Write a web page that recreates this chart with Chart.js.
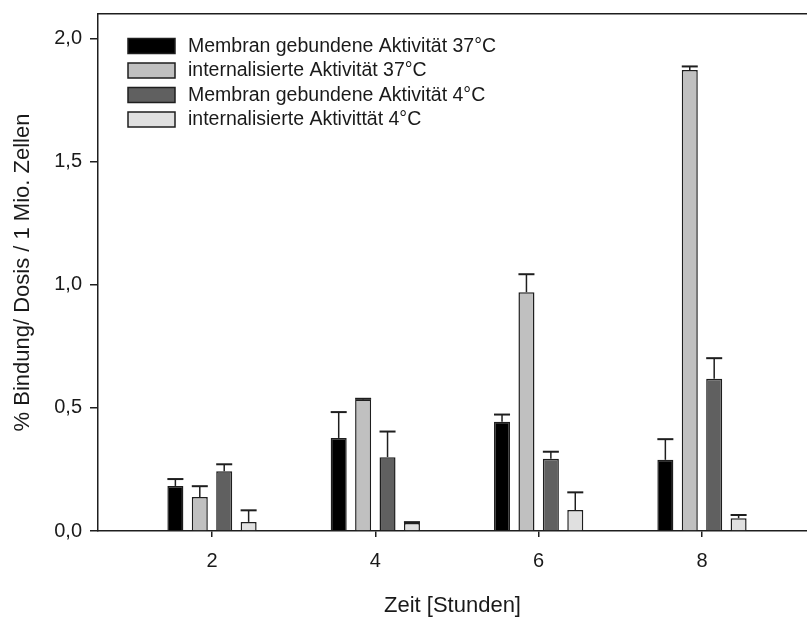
<!DOCTYPE html>
<html>
<head>
<meta charset="utf-8">
<script src="https://cdn.jsdelivr.net/npm/chart.js@4.4.0/dist/chart.umd.min.js"></script>
<style>
  html, body { margin: 0; padding: 0; background: #fff; }
  #wrap { width: 807px; height: 619px; }
</style>
</head>
<body>
<div id="wrap"><canvas id="chart" width="807" height="619"></canvas></div>
<script>
// time points (hours)
const hours = [2, 4, 6, 8];
const yTickValues = [0, 0.5, 1.0, 1.5, 2.0];
const yTickLabels = ['0,0', '0,5', '1,0', '1,5', '2,0'];

const labels = [
    'Membran gebundene Aktivität 37°C',
    'internalisierte Aktivität 37°C',
    'Membran gebundene Aktivität 4°C',
    'internalisierte Aktivittät 4°C'
];

// mean values
const membran37 = [0.183, 0.378, 0.444, 0.289];
const intern37 = [0.138, 0.534, 0.970, 1.873];
const membran4 = [0.243, 0.300, 0.293, 0.618];
const intern4 = [0.037, 0.033, 0.085, 0.052];

// upper error (SD)
const membran37Err = [0.028, 0.105, 0.029, 0.084];
const intern37Err = [0.044, 0.003, 0.073, 0.014];
const membran4Err = [0.028, 0.104, 0.029, 0.084];
const intern4Err = [0.047, 0.003, 0.072, 0.013];

const colors = ['#000000', '#c0c0c0', '#606060', '#e0e0e0'];
const ink = '#1e1e1e';

function series(vals) {
    return hours.map((h, i) => ({ x: h, y: vals[i] }));
}

const allVals = [membran37, intern37, membran4, intern4];
const allErr = [membran37Err, intern37Err, membran4Err, intern4Err];

const datasets = allVals.map((v, i) => ({
    label: labels[i],
    data: series(v),
    errors: allErr[i],
    backgroundColor: colors[i],
    borderColor: ink,
    borderWidth: 1.5,
    categoryPercentage: 0.598,
    barPercentage: 0.656
}));

// one-sided error bars on top of each bar
const errorBars = {
    id: 'errorBars',
    afterDatasetsDraw(chart) {
        const ctx = chart.ctx;
        const yScale = chart.scales.y;
        ctx.save();
        ctx.strokeStyle = ink;
        chart.data.datasets.forEach((ds, di) => {
            const meta = chart.getDatasetMeta(di);
            meta.data.forEach((bar, i) => {
                const top = yScale.getPixelForValue(ds.data[i].y + ds.errors[i]);
                const half = bar.width / 2;
                ctx.lineWidth = 1.5;
                ctx.beginPath();
                ctx.moveTo(bar.x, bar.y);
                ctx.lineTo(bar.x, top);
                ctx.stroke();
                ctx.lineWidth = 2;
                ctx.beginPath();
                ctx.moveTo(bar.x - half, top);
                ctx.lineTo(bar.x + half, top);
                ctx.stroke();
            });
        });
        ctx.restore();
    }
};

// legend box inside the plot, top left
const innerLegend = {
    id: 'innerLegend',
    afterDraw(chart) {
        const ctx = chart.ctx;
        ctx.save();
        ctx.font = '19.5px "Liberation Sans", Arial, sans-serif';
        ctx.textBaseline = 'middle';
        chart.data.datasets.forEach((ds, i) => {
            const y = 38.5 + i * 24.5;
            ctx.fillStyle = ds.backgroundColor;
            ctx.fillRect(128, y, 47, 15);
            ctx.strokeStyle = ink;
            ctx.lineWidth = 1.5;
            ctx.strokeRect(128, y, 47, 15);
            ctx.fillStyle = '#1a1a1a';
            ctx.fillText(ds.label, 188, y + 8);
        });
        ctx.restore();
    }
};

function noPad(s) {
    s.paddingTop = 0; s.paddingBottom = 0; s.paddingLeft = 0; s.paddingRight = 0;
}

new Chart(document.getElementById('chart'), {
    type: 'bar',
    data: { datasets },
    options: {
        responsive: false,
        animation: false,
        layout: { padding: { top: 14, right: 0, bottom: 0, left: 0 } },
        plugins: { legend: { display: false }, tooltip: { enabled: false } },
        scales: {
            x: {
                type: 'linear',
                min: 0.604,
                max: 9.286,
                offset: false,
                afterBuildTicks: (s) => { s.ticks = hours.map(v => ({ value: v })); },
                afterFit: (s) => { s.height = 88; noPad(s); },
                grid: { offset: false, drawOnChartArea: false, tickLength: 6, tickColor: ink, lineWidth: 1.5 },
                border: { display: true, color: ink, width: 1.5 },
                ticks: {
                    color: '#1a1a1a', padding: 12,
                    font: { family: '"Liberation Sans", Arial, sans-serif', size: 20 },
                    callback: (v) => String(v)
                },
                title: {
                    display: true, text: 'Zeit [Stunden]', color: '#1a1a1a',
                    font: { family: '"Liberation Sans", Arial, sans-serif', size: 22 },
                    padding: { top: 0, bottom: 0 }
                }
            },
            x2: {
                type: 'linear', position: 'top', min: 0.604, max: 9.286,
                offset: false,
                afterFit: (s) => { s.height = 0; noPad(s); },
                grid: { offset: false, drawOnChartArea: false, drawTicks: false },
                border: { display: true, color: ink, width: 1.5 },
                ticks: { display: false }
            },
            y: {
                min: 0,
                max: 2.1,
                afterBuildTicks: (s) => { s.ticks = yTickValues.map(v => ({ value: v })); },
                afterFit: (s) => { s.width = 98; noPad(s); },
                grid: { drawOnChartArea: false, tickLength: 8, tickColor: ink, lineWidth: 1.5 },
                border: { display: true, color: ink, width: 1.5 },
                ticks: {
                    color: '#1a1a1a', padding: 8,
                    font: { family: '"Liberation Sans", Arial, sans-serif', size: 20 },
                    callback: (v, i) => yTickLabels[i]
                },
                title: {
                    display: true, text: '% Bindung/ Dosis / 1 Mio. Zellen', color: '#1a1a1a',
                    font: { family: '"Liberation Sans", Arial, sans-serif', size: 22 },
                    padding: { top: 10, bottom: 0 }
                }
            }
        }
    },
    plugins: [errorBars, innerLegend]
});
</script>
</body>
</html>
